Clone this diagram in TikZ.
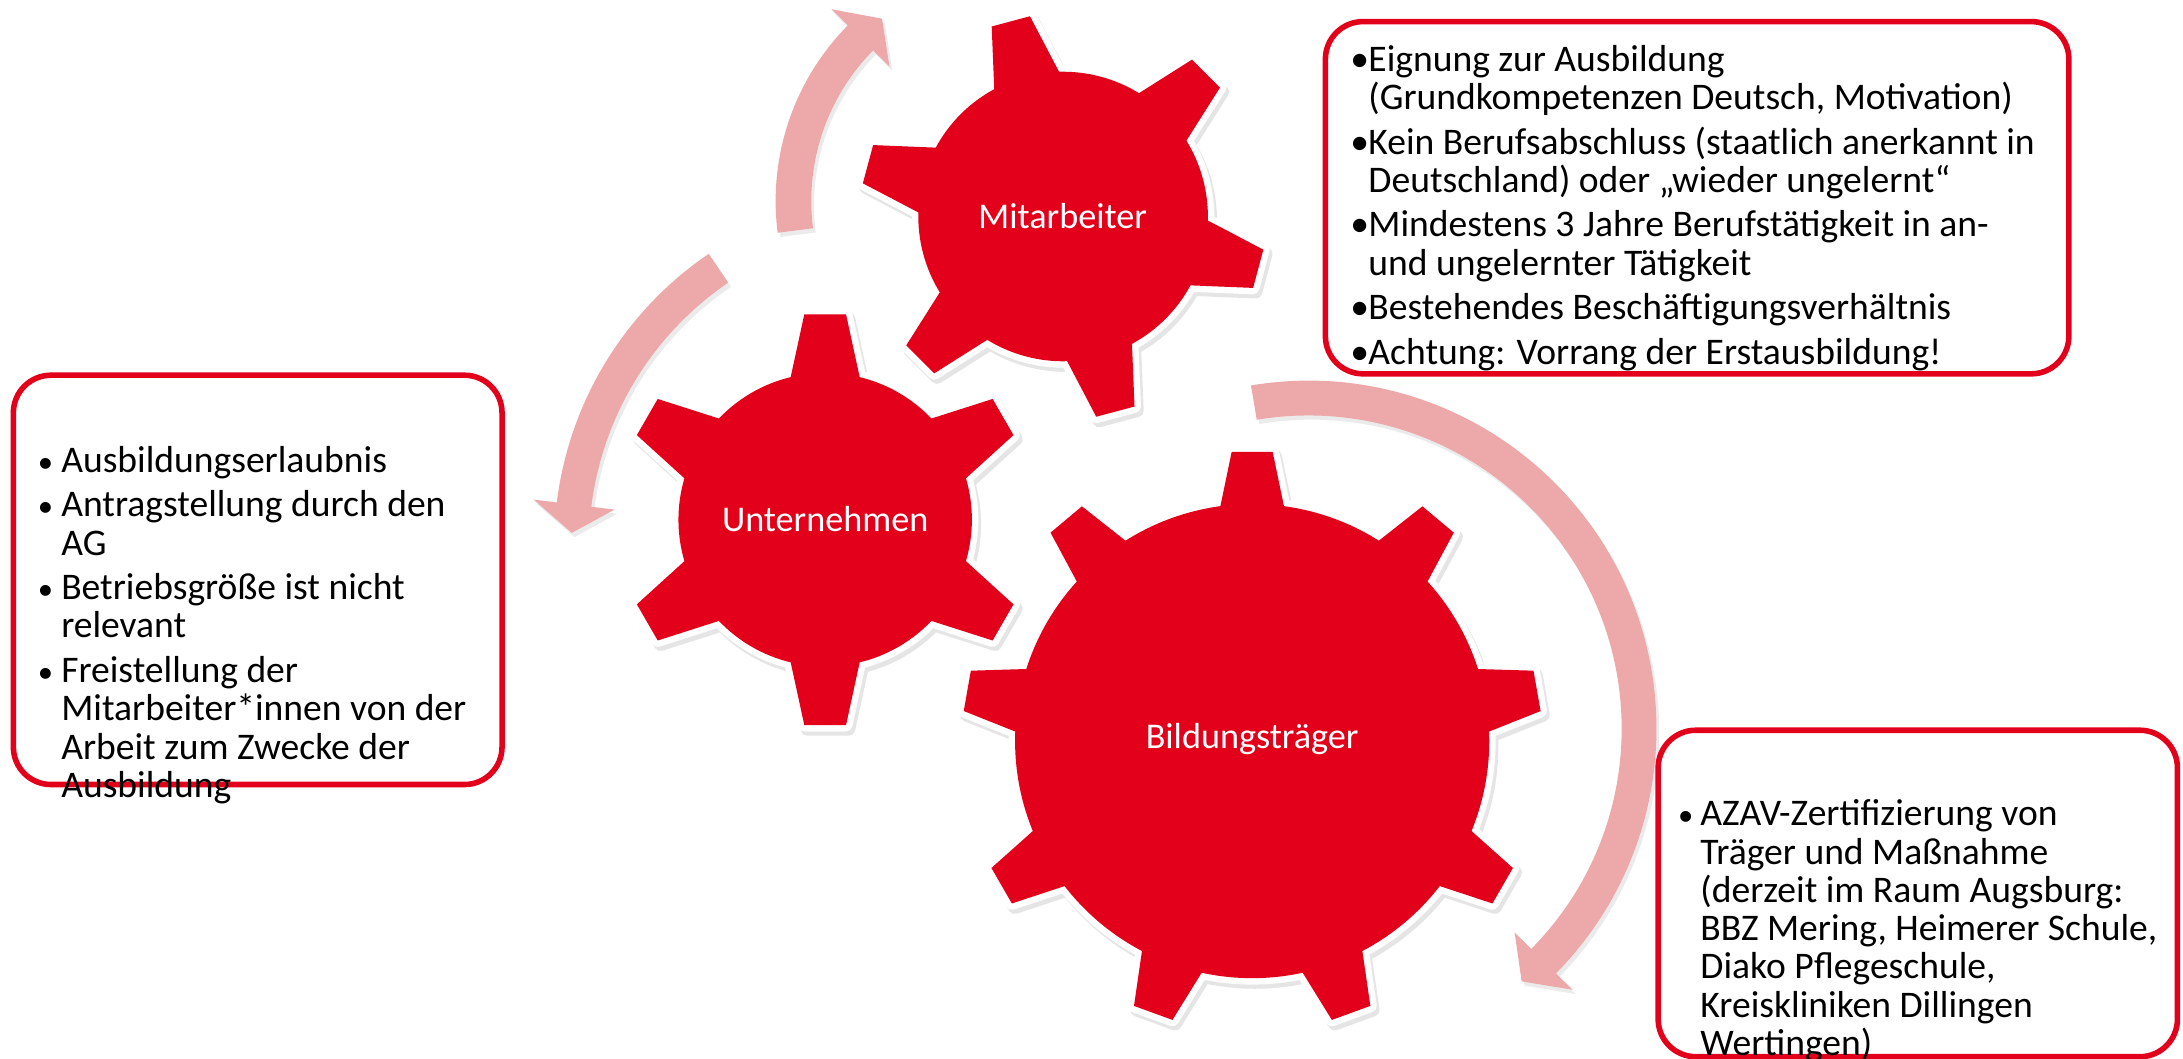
\documentclass[tikz,border=0pt]{standalone}
\usepackage{fontspec}
\setmainfont{Carlito}
\definecolor{gearred}{HTML}{E2001A}
\definecolor{arrowpink}{HTML}{EDA9AA}
% gear outline: R, r, n, phase, tip half angle, base half angle
\newcommand\gearpath[6]{({#4+#6}:#2) \foreach \k in {1,...,#3}{ arc[start angle={#4+(\k-1)*360/#3+#6}, end angle={#4+\k*360/#3-#6}, radius=#2] -- ({#4+\k*360/#3-#5}:#1) -- ({#4+\k*360/#3+#5}:#1) -- ({#4+\k*360/#3+#6}:#2)} -- cycle}
% circular arrow: radius, tail angle, head-base angle, apex angle, half shaft, half head
\newcommand\arrowpath[6]{({#2}:{#1+#5}) arc[start angle=#2, end angle=#3, radius={#1+#5}] -- ({#3}:{#1+#6}) -- ({#4}:#1) -- ({#3}:{#1-#6}) -- ({#3}:{#1-#5}) arc[start angle=#3, end angle=#2, radius={#1-#5}] -- cycle}
\newcommand\bul[1]{\makebox[#1][l]{•}}
\newcommand\sbul[1]{\makebox[#1][l]{\fontsize{11pt}{11pt}\selectfont •}}
\newcommand\ind[1]{\hspace*{#1}}
\begin{document}
\lineskiplimit=-20pt
\begin{tikzpicture}[x=0.5pt,y=-0.5pt,
  gearfill/.style={fill=gearred},
  gearedge/.style={draw=white, fill=white, line width=4.6pt, line join=round},
  gearshadow/.style={draw=black, fill=black, line width=4.6pt, line join=round, opacity=0.10},
  arrowbody/.style={fill=arrowpink},
  arrowshadow/.style={fill=black, opacity=0.08},
  infobox/.style={draw=gearred, line width=2pt, fill=white, rounded corners=13.5pt},
  boxtext/.style={anchor=north west, inner sep=0pt, align=left,
    font=\fontsize{13.5pt}{13.75pt}\selectfont},
  geartext/.style={anchor=base, inner sep=0pt, text=white, font=\fontsize{13pt}{15pt}\selectfont}]
\useasboundingbox (0,0) rectangle (1568,760.6);
\coordinate (cM) at (763.6,155.5);
\coordinate (cU) at (592.7,373.3);
\coordinate (cB) at (899.4,532.3);
\coordinate (a1c) at (736.6,144.4);
\coordinate (a2c) at (651.5,392);
\coordinate (a3c) at (939.8,523.4);
% arrows
\begin{scope}[shift={(a1c)}]
  \path[arrowshadow, shift={(2,3)}] \arrowpath{166.7}{172.7}{224.66}{231.8}{12.8}{29.3};
  \path[arrowbody] \arrowpath{166.7}{172.7}{224.66}{231.8}{12.8}{29.3};
\end{scope}
\begin{scope}[shift={(a2c)}]
  \path[arrowshadow, shift={(2,3)}] \arrowpath{241}{235.8}{187.05}{182.2}{12.5}{29.3};
  \path[arrowbody] \arrowpath{241}{235.8}{187.05}{182.2}{12.5}{29.3};
\end{scope}
\begin{scope}[shift={(a3c)}]
  \path[arrowshadow, shift={(2,3)}] \arrowpath{237.5}{260.5}{404.66}{409.84}{12.5}{29.3};
  \path[arrowbody] \arrowpath{237.5}{260.5}{404.66}{409.84}{12.5}{29.3};
\end{scope}
% gears
\begin{scope}[shift={(cM)}]
  \path[gearshadow, shift={(2,3)}] \gearpath{145.8}{104}{6}{15}{5.6}{13.4};
  \path[gearedge] \gearpath{145.8}{104}{6}{15}{5.6}{13.4};
  \path[gearfill] \gearpath{145.8}{104}{6}{15}{5.6}{13.4};
\end{scope}
\begin{scope}[shift={(cU)}]
  \path[gearshadow, shift={(2,3)}] \gearpath{148.3}{105.4}{6}{30}{5.8}{13.6};
  \path[gearedge] \gearpath{148.3}{105.4}{6}{30}{5.8}{13.6};
  \path[gearfill] \gearpath{148.3}{105.4}{6}{30}{5.8}{13.6};
\end{scope}
\begin{scope}[shift={(cB)}]
  \path[gearshadow, shift={(2,3)}] \gearpath{208.3}{170.3}{9}{30}{4.05}{7.7};
  \path[gearedge] \gearpath{208.3}{170.3}{9}{30}{4.05}{7.7};
  \path[gearfill] \gearpath{208.3}{170.3}{9}{30}{4.05}{7.7};
\end{scope}
\node[geartext] (mitarbeiter) at (763.3,164) {Mitarbeiter};
\node[geartext] (unternehmen) at (592.7,382) {Unternehmen};
\node[geartext] (bildung) at (899.4,537.6) {Bildungsträger};
% boxes
\path[infobox] (9.6,269.5) rectangle (360.6,563.5);
\path[infobox] (952,15.5) rectangle (1486,268.5);
\path[infobox] (1191,524.5) rectangle (1564,759);
% box texts
\node[boxtext] (txtL) at (26.8,314.8) {\rule{0pt}{12pt}\sbul{8.4pt}Ausbildungserlaubnis\\[2.25pt]
\sbul{8.4pt}Antragstellung durch den\\
\ind{8.4pt}AG\\[2.25pt]
\sbul{8.4pt}Betriebsgröße ist nicht\\
\ind{8.4pt}relevant\\[2.25pt]
\sbul{8.4pt}Freistellung der\\
\ind{8.4pt}Mitarbeiter*innen von der\\
\ind{8.4pt}Arbeit zum Zwecke der\\
\ind{8.4pt}Ausbildung};
\node[boxtext] (txtR) at (969.5,26.8) {\rule{0pt}{12pt}\bul{6.5pt}Eignung zur Ausbildung\\
\ind{6.5pt}(Grundkompetenzen Deutsch, Motivation)\\[2.25pt]
\bul{6.5pt}Kein Berufsabschluss (staatlich anerkannt in\\
\ind{6.5pt}Deutschland) oder „wieder ungelernt“\\[2.25pt]
\bul{6.5pt}Mindestens 3 Jahre Berufstätigkeit in an-\\
\ind{6.5pt}und ungelernter Tätigkeit\\[2.25pt]
\bul{6.5pt}Bestehendes Beschäftigungsverhältnis\\[2.25pt]
\bul{6.5pt}Achtung: Vorrang der Erstausbildung!};
\node[boxtext] (txtB) at (1205,568.7) {\rule{0pt}{12pt}\sbul{8pt}AZAV-Zertifizierung von\\
\ind{8pt}Träger und Maßnahme\\
\ind{8pt}(derzeit im Raum Augsburg:\\
\ind{8pt}BBZ Mering, Heimerer Schule,\\
\ind{8pt}Diako Pflegeschule,\\
\ind{8pt}Kreiskliniken Dillingen\\
\ind{8pt}Wertingen)};
\end{tikzpicture}
\end{document}
